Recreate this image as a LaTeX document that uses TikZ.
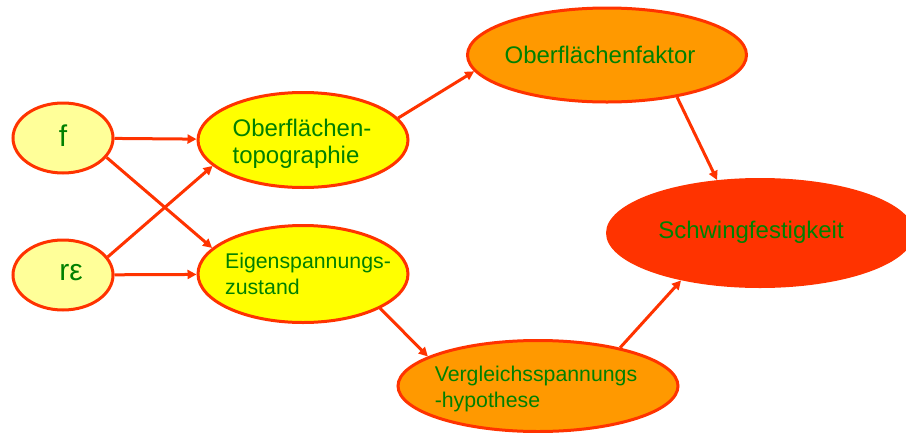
\documentclass[tikz,border=0pt]{standalone}
\usepackage{fontspec}
\setmainfont{Liberation Sans}
\usetikzlibrary{shapes.geometric,arrows.meta}
\definecolor{lred}{HTML}{FF3300}
\definecolor{dgreen}{HTML}{008000}
\definecolor{lyel}{HTML}{FFFF99}
\definecolor{yel}{HTML}{FFFF00}
\definecolor{orng}{HTML}{FF9900}
\begin{document}
\begin{tikzpicture}[x=1pt,y=-1pt,
  bub/.style={ellipse, draw=lred, line width=3pt, inner sep=0pt},
  lbl/.style={text=dgreen, align=left, inner sep=0pt},
  big/.style={font=\fontsize{30}{34}\selectfont},
  mid/.style={font=\fontsize{24}{27}\selectfont},
  sml/.style={font=\fontsize{21.3}{26}\selectfont},
  arr/.style={draw=lred, line width=3pt, -{Triangle[length=9pt,width=9pt]}}]
\useasboundingbox (0,0) rectangle (906,432);
\clip (0,0) rectangle (906,432);
\node[bub, fill=lyel, minimum width=100pt, minimum height=70pt] (f) at (63,138) {};
\node[bub, fill=lyel, minimum width=100pt, minimum height=70pt] (r) at (63,275) {};
\node[bub, fill=yel, minimum width=210pt, minimum height=95pt] (topo) at (303,140) {};
\node[bub, fill=yel, minimum width=210pt, minimum height=97pt] (eig) at (303,274) {};
\node[bub, fill=orng, minimum width=279pt, minimum height=94pt] (fak) at (607,55) {};
\node[ellipse, fill=lred, inner sep=0pt, minimum width=308pt, minimum height=110pt] (sch) at (760,233) {};
\node[bub, fill=orng, minimum width=280pt, minimum height=91pt] (ver) at (538,386) {};
\node[lbl, big] (ft) at (63,136) {f};
\node[lbl, big] (rt) at (71,273) {rε};
\node[lbl, mid] (topot) at (302,144) {Oberflächen-\\topographie};
\node[lbl, sml] (eigt) at (308,274) {Eigenspannungs-\\zustand};
\node[lbl, mid] (fakt) at (600,55) {Oberflächenfaktor};
\node[lbl, mid] (scht) at (751,232) {Schwingfestigkeit};
\node[lbl, sml] (vert) at (536,389) {Vergleichsspannungs\\-hypothese};
\draw[arr] (f) -- (topo);
\draw[arr] (f.-24) -- (eig.164);
\draw[arr] (r.22) -- (topo.-164);
\draw[arr] (r) -- (eig);
\draw[arr] (topo.13) -- (fak.-173);
\draw[arr] (fak.-31) -- (sch.129);
\draw[arr] (eig.-24) -- (ver.165);
\draw[arr] (ver.25) -- (sch.-149);
\end{tikzpicture}
\end{document}
